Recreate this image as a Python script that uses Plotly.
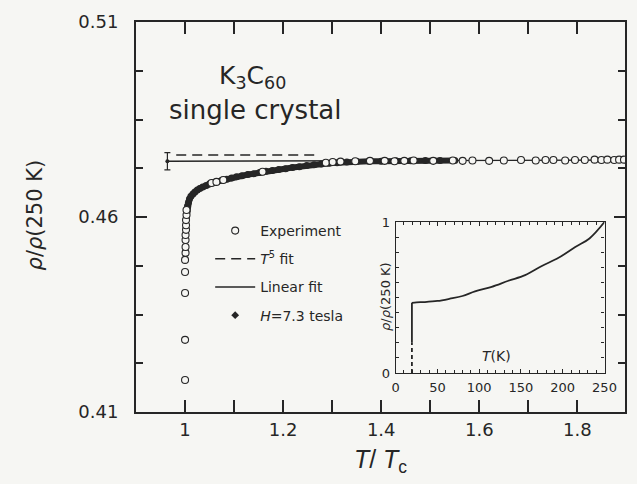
import plotly.graph_objects as go

# ---------------- data ----------------
# Experiment (open circles): T/Tc and rho/rho(250K)
exp_t = [1.000, 1.000, 1.000, 1.000, 1.000, 1.001, 1.001, 1.001, 1.001, 1.002, 1.002, 1.002,
         1.003, 1.003, 1.054, 1.064, 1.078, 1.158, 1.287, 1.301, 1.317, 1.347, 1.377, 1.407,
         1.427, 1.447, 1.466, 1.506, 1.546, 1.566, 1.586, 1.620, 1.650, 1.685, 1.715, 1.735,
         1.751, 1.775, 1.795, 1.815, 1.835, 1.849, 1.861, 1.875, 1.885, 1.895]
exp_r = [0.4182, 0.4285, 0.4405, 0.4459, 0.4490, 0.4508, 0.4523, 0.4541, 0.4554, 0.4567, 0.4579, 0.4592,
         0.4605, 0.4618, 0.4687, 0.4690, 0.4695, 0.4716, 0.4739, 0.4741, 0.4742, 0.4743, 0.4744, 0.4744,
         0.4743, 0.4744, 0.4745, 0.4744, 0.4745, 0.4744, 0.4745, 0.4744, 0.4745, 0.4746, 0.4745, 0.4746,
         0.4746, 0.4745, 0.4746, 0.4746, 0.4747, 0.4746, 0.4747, 0.4746, 0.4747, 0.4747]

# H = 7.3 tesla (dense filled points)
h_t = [1.003, 1.004, 1.005, 1.007, 1.009, 1.012, 1.016, 1.020, 1.025, 1.030, 1.036, 1.043, 1.050,
       1.058, 1.066, 1.075, 1.085, 1.095, 1.105, 1.116, 1.128, 1.140, 1.152, 1.165, 1.178, 1.191,
       1.205, 1.219, 1.233, 1.248, 1.263, 1.278, 1.294, 1.310, 1.330, 1.350, 1.375, 1.400, 1.430,
       1.460, 1.490, 1.520, 1.550]
h_r = [0.4600, 0.4615, 0.4628, 0.4638, 0.4646, 0.4653, 0.4659, 0.4664, 0.4669, 0.4673, 0.4677, 0.4681, 0.4685,
       0.4688, 0.4691, 0.4694, 0.4697, 0.4700, 0.4703, 0.4706, 0.4709, 0.4711, 0.4714, 0.4717, 0.4719, 0.4722,
       0.4724, 0.4727, 0.4729, 0.4732, 0.4734, 0.4736, 0.4738, 0.4739, 0.4741, 0.4742, 0.4743, 0.4743, 0.4744,
       0.4744, 0.4745, 0.4745, 0.4745]

# Fits
t5_t = [0.982, 1.270]
t5_r = [0.4759, 0.4759]
lin_t = [0.964, 1.897]
lin_r = [0.4743, 0.4746]
err_t = [0.964]
err_r = [0.4743]
err_d = [0.0022]

# Inset: rho/rho(250K) vs T(K)
ins_drop_T = [19.5, 19.5]
ins_drop_r = [0.0, 0.2]
ins_jump_T = [19.5, 19.5]
ins_jump_r = [0.2, 0.465]
ins_T = [19.5, 25, 35, 50, 65, 80, 95, 115, 135, 155, 175, 195, 215, 232, 250]
ins_r = [0.465, 0.468, 0.470, 0.477, 0.492, 0.510, 0.540, 0.571, 0.611, 0.648, 0.709, 0.763, 0.834, 0.891, 1.0]

# tick labels
x_ticks = [1.0, 1.2, 1.4, 1.6, 1.8]
x_ticktext = ["1", "1.2", "1.4", "1.6", "1.8"]
y_ticks = [0.41, 0.46, 0.51]
y_ticktext = ["0.41", "0.46", "0.51"]
ins_x_ticks = [0, 50, 100, 150, 200, 250]
ins_y_ticks = [0, 1]

# ---------------- style ----------------
INK = "#262626"
BG = "#f6f6f3"
FONT = "DejaVu Sans"

fig = go.Figure()

# H=7.3 tesla band
fig.add_trace(go.Scatter(x=h_t, y=h_r, mode="lines+markers",
                         line=dict(color=INK, width=6),
                         marker=dict(symbol="circle", size=7, color=INK),
                         showlegend=False, legendgroup="h", hoverinfo="skip"))
# T^5 fit
fig.add_trace(go.Scatter(x=t5_t, y=t5_r, mode="lines", name="<i>T</i><sup>5</sup> fit",
                         line=dict(color=INK, width=1.6, dash="10px,6px"),
                         legendgroup="t5", legendrank=2))
# Linear fit
fig.add_trace(go.Scatter(x=lin_t, y=lin_r, mode="lines", name="Linear fit",
                         line=dict(color=INK, width=1.4),
                         legendgroup="lin", legendrank=3))
# error bar
fig.add_trace(go.Scatter(x=err_t, y=err_r, mode="markers",
                         marker=dict(color=INK, size=4),
                         error_y=dict(type="data", array=err_d, color=INK, thickness=1.2, width=3),
                         showlegend=False))
# Experiment
fig.add_trace(go.Scatter(x=exp_t, y=exp_r, mode="markers", name="Experiment",
                         marker=dict(symbol="circle", size=7, color=BG,
                                     line=dict(color=INK, width=1.1)),
                         legendgroup="exp", legendrank=1))
# legend entry for H
fig.add_trace(go.Scatter(x=[None], y=[None], mode="markers", name="<i>H</i>=7.3 tesla",
                         marker=dict(symbol="diamond", size=6, color=INK),
                         legendgroup="h", legendrank=4))

# Inset
fig.add_trace(go.Scatter(x=ins_drop_T, y=ins_drop_r, mode="lines", xaxis="x2", yaxis="y2",
                         line=dict(color=INK, width=1.8, dash="4px,3px"), showlegend=False))
fig.add_trace(go.Scatter(x=ins_jump_T, y=ins_jump_r, mode="lines", xaxis="x2", yaxis="y2",
                         line=dict(color=INK, width=1.8), showlegend=False))
fig.add_trace(go.Scatter(x=ins_T, y=ins_r, mode="lines", xaxis="x2", yaxis="y2",
                         line=dict(color=INK, width=1.8, shape="spline", smoothing=1.0),
                         showlegend=False))

W, H = 637, 484
ml, mr, mt, mb = 136, 0, 22, 72
pw, ph = W - ml - mr, H - mt - mb


def px_x(p):
    return (p - ml) / pw


def px_y(p):
    return (H - mb - p) / ph


def note(text, x, y, size, xa="center", ya="middle", angle=0, family=FONT):
    return dict(text=text, xref="paper", yref="paper", x=px_x(x), y=px_y(y),
                xanchor=xa, yanchor=ya, textangle=angle, showarrow=False,
                font=dict(family=family, size=size, color=INK))


fig.update_layout(
    width=W, height=H,
    margin=dict(l=ml, r=mr, t=mt, b=mb),
    paper_bgcolor=BG, plot_bgcolor=BG,
    font=dict(family=FONT, color=INK, size=18),
    showlegend=True,
    legend=dict(x=px_x(212), y=px_y(215), xanchor="left", yanchor="top",
                bgcolor="rgba(0,0,0,0)", font=dict(family=FONT, size=14, color=INK),
                tracegroupgap=7, itemwidth=40),
    xaxis=dict(range=[0.9, 0.9 + pw / 502.5], showline=True, linecolor=INK, linewidth=2,
               mirror="ticks", ticks="inside", ticklen=12, tickwidth=1.6, tickcolor=INK,
               tickvals=x_ticks, ticktext=x_ticktext, showgrid=False, zeroline=False,
               tickfont=dict(size=18),
               minor=dict(dtick=0.1, tick0=0.9, ticks="inside", ticklen=12, tickwidth=1.6,
                          tickcolor=INK, showgrid=False),
               title=dict(text="<i>T</i>/ <i>T</i><sub>c</sub>", standoff=12,
                          font=dict(family="Liberation Sans", size=25))),
    yaxis=dict(range=[0.41, 0.51], showline=True, linecolor=INK, linewidth=2,
               mirror="ticks", ticks="inside", ticklen=11, tickwidth=1.6, tickcolor=INK,
               tickvals=y_ticks, ticktext=y_ticktext, showgrid=False, zeroline=False,
               tickfont=dict(size=18), ticklabelstandoff=12,
               minor=dict(tickvals=[0.4225, 0.435, 0.4475, 0.4725, 0.485, 0.4975],
                          ticks="inside", ticklen=7, tickwidth=1.6, tickcolor=INK, showgrid=False)),
    xaxis2=dict(domain=[px_x(402), px_x(616)], anchor="y2", range=[0, 250],
                showline=True, linecolor=INK, linewidth=1.2, mirror="ticks",
                ticks="inside", ticklen=4, tickwidth=1, tickcolor=INK,
                tickvals=ins_x_ticks, showgrid=False, zeroline=False,
                tickfont=dict(size=13), ticklabelstandoff=2,
                minor=dict(dtick=10, ticks="inside", ticklen=3, tickwidth=1, tickcolor=INK)),
    yaxis2=dict(domain=[px_y(373), px_y(222)], anchor="x2", range=[0, 1],
                showline=True, linecolor=INK, linewidth=1.2, mirror="ticks",
                ticks="inside", ticklen=4, tickwidth=1, tickcolor=INK,
                tickvals=ins_y_ticks, showgrid=False, zeroline=False,
                tickfont=dict(size=13), ticklabelstandoff=2,
                minor=dict(dtick=0.1, ticks="inside", ticklen=3, tickwidth=1, tickcolor=INK)),
    annotations=[
        note("K<sub>3</sub>C<sub>60</sub>", 255, 95, 25, ya="bottom"),
        note("single crystal", 258, 93, 26, ya="top"),
        note("<i>T</i>(K)", 505, 356, 14),
        note("<i>ρ</i>/<i>ρ</i>(250 K)", 33, 215, 21, angle=-90),
        note("<i>ρ</i>/<i>ρ</i>(250 K)", 391, 296, 13, angle=-90),
    ],
)

fig.write_html("out.html")
